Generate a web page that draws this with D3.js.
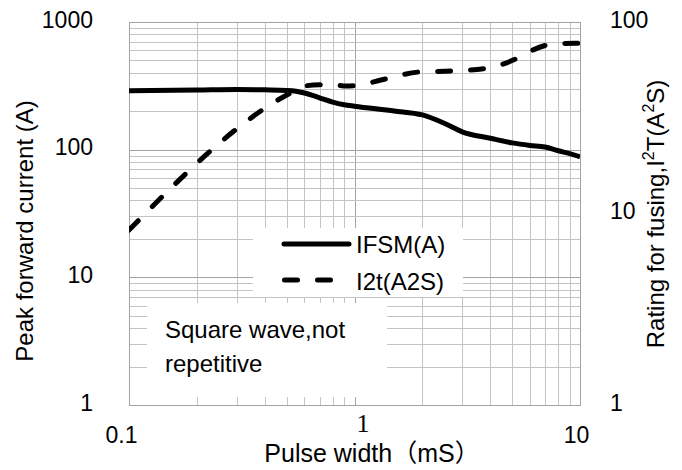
<!DOCTYPE html>
<html><head><meta charset="utf-8">
<script src="https://cdn.jsdelivr.net/npm/d3@7"></script>
<style>
body{margin:0;background:#fff}
svg{display:block}
text{font-family:"Liberation Sans",Arial,"Noto Sans CJK SC",sans-serif;fill:#000}
</style>
</head><body>
<svg id="c" width="682" height="470"></svg>
<script>
// ---- data ----
const pulseWidthIFSM = [0.1, 0.2, 0.3, 0.4, 0.5, 0.55, 0.6, 0.7, 0.8, 0.9, 1, 1.5, 2, 2.5, 3, 4, 5, 6, 7, 8, 9, 10];
const ifsmValues     = [290, 293, 296, 294, 291, 287, 278, 255, 236, 225, 219, 201, 187, 161, 138, 123, 113, 108, 105, 98, 93, 88];
const pulseWidthI2t  = [0.1, 0.52, 0.6, 0.7, 0.8, 0.92, 1, 1.37, 1.93, 2.72, 3.82, 4.5, 5.33, 6.2, 7.23, 8, 9.5, 10];
const i2tValues      = [8.2, 42.6, 46.3, 47, 47, 46.3, 46.5, 50.4, 54.8, 55.5, 57.3, 60, 65.1, 71.5, 76.1, 77.2, 77.4, 77.4];
const xTickValues = [0.1, 1, 10];
const xTickLabels = ["0.1", "1", "10"];
const leftTickValues = [1, 10, 100, 1000];
const rightTickValues = [1, 10, 100];
const seriesNames = ["IFSM(A)", "I2t(A2S)"];
const noteLines = ["Square wave,not", "repetitive"];
const xTitle = "Pulse width（mS）";
const leftTitle = "Peak forward current (A)";

// ---- layout ----
const L = 129, R = 580, T = 22, B = 405;
const svg = d3.select("#c");
const x = d3.scaleLog().domain([0.1, 10]).range([L, R]);
const yL = d3.scaleLog().domain([1, 1000]).range([B, T]);
const yR = d3.scaleLog().domain([1, 100]).range([B, T]);
const isMajor = v => Math.abs(Math.log10(v) - Math.round(Math.log10(v))) < 1e-9;

// grid via axes
const gx = svg.append("g").attr("transform", `translate(0,${B})`)
  .call(d3.axisBottom(x).tickValues(x.ticks()).tickSize(-(B - T)).tickFormat(""));
gx.select(".domain").remove();
gx.selectAll(".tick line").attr("stroke", d => isMajor(d) ? "#a3a3a3" : "#c4c4c4").attr("stroke-width", 1)
  .attr("shape-rendering", "crispEdges");
const gy = svg.append("g").attr("transform", `translate(${L},0)`)
  .call(d3.axisLeft(yL).tickValues(yL.ticks()).tickSize(-(R - L)).tickFormat(""));
gy.select(".domain").remove();
gy.selectAll(".tick line").attr("stroke", d => isMajor(d) ? "#a3a3a3" : "#c4c4c4").attr("stroke-width", 1)
  .attr("shape-rendering", "crispEdges");

// frame
svg.append("rect").attr("x", L).attr("y", T).attr("width", R - L).attr("height", B - T)
  .attr("fill", "none").attr("stroke", "#a3a3a3").attr("stroke-width", 1).attr("shape-rendering", "crispEdges");

// white boxes (legend, note)
svg.append("rect").attr("x", 253).attr("y", 228).attr("width", 210).attr("height", 69).attr("fill", "#fff");
svg.append("rect").attr("x", 147).attr("y", 303).attr("width", 240).attr("height", 94).attr("fill", "#fff");

// clip
svg.append("clipPath").attr("id", "clip").append("rect")
  .attr("x", L).attr("y", T).attr("width", R - L).attr("height", B - T);

const lineIFSM = d3.line().x(d => x(d[0])).y(d => yL(d[1])).curve(d3.curveMonotoneX);
const lineI2t = d3.line().x(d => x(d[0])).y(d => yR(d[1])).curve(d3.curveMonotoneX);

svg.append("path").attr("clip-path", "url(#clip)")
  .datum(d3.zip(pulseWidthIFSM, ifsmValues))
  .attr("d", lineIFSM).attr("fill", "none").attr("stroke", "#000").attr("stroke-width", 5);
svg.append("path").attr("clip-path", "url(#clip)")
  .datum(d3.zip(pulseWidthI2t, i2tValues))
  .attr("d", lineI2t).attr("fill", "none").attr("stroke", "#000").attr("stroke-width", 5)
  .attr("stroke-dasharray", "13,20").attr("stroke-linecap", "round");

// legend
const leg = svg.append("g");
leg.append("line").attr("x1", 284).attr("x2", 349).attr("y1", 244).attr("y2", 244)
  .attr("stroke", "#000").attr("stroke-width", 5).attr("stroke-linecap", "round");
leg.append("line").attr("x1", 284.5).attr("x2", 330.5).attr("y1", 280).attr("y2", 280)
  .attr("stroke", "#000").attr("stroke-width", 5).attr("stroke-linecap", "round").attr("stroke-dasharray", "13,20");
leg.selectAll("text.lg").data(seriesNames).join("text").attr("class", "lg")
  .attr("x", 356).attr("y", (d, i) => 253 + i * 37).attr("font-size", 24).text(d => d);

// note
svg.selectAll("text.note").data(noteLines).join("text").attr("class", "note")
  .attr("x", 165).attr("y", (d, i) => 338 + i * 34).attr("font-size", 24).text(d => d);

// tick labels via axes
const al = svg.append("g").attr("transform", `translate(${L},0)`)
  .call(d3.axisLeft(yL).tickValues(leftTickValues).tickFormat(d3.format("d")).tickSize(0).tickPadding(36));
al.select(".domain").remove();
al.selectAll("text").attr("dy", 5).attr("font-size", 23).attr("font-family", null);

const ar = svg.append("g").attr("transform", `translate(${R},0)`)
  .call(d3.axisRight(yR).tickValues(rightTickValues).tickFormat(d3.format("d")).tickSize(0).tickPadding(30));
ar.select(".domain").remove();
ar.selectAll("text").attr("dy", 5).attr("font-size", 23).attr("font-family", null);

const ab = svg.append("g").attr("transform", `translate(0,${B})`)
  .call(d3.axisBottom(x).tickValues(xTickValues).tickFormat((d, i) => xTickLabels[i]).tickSize(0));
ab.select(".domain").remove();
ab.selectAll("text").attr("font-family", null).attr("font-size", 23).attr("dy", 0).attr("y", 38)
  .attr("dx", (d, i) => [-8, 8, -4][i]);
ab.selectAll("text").filter((d, i) => i === 1)
  .style("font-family", "'Liberation Serif','Times New Roman',serif").attr("font-size", 26).attr("y", 27);

// titles
svg.append("text").attr("x", 372).attr("y", 462).attr("text-anchor", "middle").attr("font-size", 25).text(xTitle);
svg.append("text").attr("transform", "translate(33,231) rotate(-90)").attr("text-anchor", "middle")
  .attr("font-size", 24).text(leftTitle);
const rt = svg.append("text").attr("transform", "translate(664,214) rotate(-90)").attr("text-anchor", "middle")
  .attr("font-size", 24);
rt.append("tspan").text("Rating for fusing,I");
rt.append("tspan").attr("dy", -10).attr("font-size", 16).text("2");
rt.append("tspan").attr("dy", 10).text("T(A");
rt.append("tspan").attr("dy", -10).attr("font-size", 16).text("2");
rt.append("tspan").attr("dy", 10).text("S)");
</script>
</body></html>
